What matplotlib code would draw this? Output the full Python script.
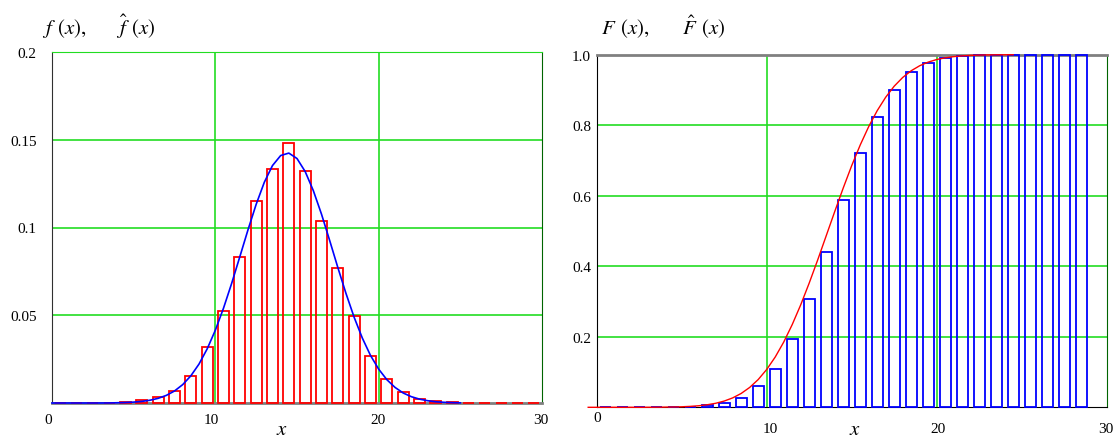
import numpy as np
import matplotlib.pyplot as plt

# two-panel density / distribution plot (histogram vs fitted normal)
plt.rcParams['mathtext.fontset'] = 'stix'
plt.rcParams['font.family'] = ['Liberation Serif', 'DejaVu Serif']

W, H = 1118, 439

# histogram bins k = 0..29, bars drawn at k + 0.5
k_pdf = np.arange(30)
f_hat = [0, 0, 0, 0.0001, 0.0005, 0.0016, 0.0033, 0.0071, 0.0156, 0.0319,
         0.0524, 0.0833, 0.1152, 0.1333, 0.1482, 0.1322, 0.1038, 0.0770, 0.0495, 0.0269,
         0.0137, 0.0062, 0.0025, 0.0010, 0.0004, 0, 0, 0, 0, 0]

# cumulative bars k = 0..28
k_cdf = np.arange(29)
F_hat = [0, 0, 0, 0.0001, 0.0006, 0.0020, 0.0055, 0.012, 0.026, 0.0595,
         0.110, 0.194, 0.306, 0.440, 0.589, 0.720, 0.824, 0.901, 0.950, 0.976,
         0.9906, 0.997, 0.999, 1.0, 1.0, 1.0, 1.0, 1.0, 1.0]

# fitted density, x = 0, 0.5, ..., 25
f_x = np.arange(0, 25.25, 0.5)
f_curve = [0, 0, 0, 0, 0, 0, 0.00001, 0.00003, 0.00014, 0.00028,
           0.00051, 0.00091, 0.00158, 0.00266, 0.00434, 0.00684, 0.01046, 0.01548, 0.02218, 0.03083,
           0.04146, 0.05402, 0.06818, 0.08335, 0.09869, 0.1132, 0.1258, 0.1353, 0.1410, 0.1424,
           0.1393, 0.1319, 0.1210, 0.1076, 0.0926, 0.0772, 0.0624, 0.0488, 0.0370, 0.0271,
           0.0193, 0.0133, 0.0089, 0.0057, 0.0036, 0.0022, 0.0013, 0.0007, 0.0004, 0.0002,
           0.0001]

# fitted distribution, x = -0.5, 0, ..., 24.5
F_x = np.arange(-0.5, 24.75, 0.5)
F_curve = [0, 0, 0, 0, 0, 0, 0, 0.0001, 0.0003, 0.0005,
           0.0009, 0.0015, 0.0026, 0.0044, 0.0072, 0.0114, 0.0177, 0.0267, 0.0393, 0.0564,
           0.0787, 0.1073, 0.1425, 0.1849, 0.2345, 0.2905, 0.3523, 0.4180, 0.4864, 0.5549,
           0.6217, 0.6854, 0.7438, 0.7961, 0.8413, 0.8794, 0.9107, 0.9354, 0.9545, 0.9687,
           0.9790, 0.9863, 0.9912, 0.9946, 0.9967, 0.9981, 0.9989, 0.9994, 0.9997, 0.9998,
           0.9999]

green = '#22dd22'
dkgreen = '#006400'

fig = plt.figure(figsize=(W / 100, H / 100), dpi=100)

# ---- left: density
ax1 = fig.add_axes([52 / W, (H - 404) / H, 490 / W, 351 / H])
ax1.set_xlim(0, 30)
ax1.set_ylim(0, 0.2)
for y in [0.05, 0.1, 0.15]:
    ax1.axhline(y, color=green, lw=1.2, zorder=1)
for x in [10, 20]:
    ax1.axvline(x, color=green, lw=1.2, zorder=1)
ax1.bar(k_pdf + 0.5, f_hat, width=0.66, fill=False, edgecolor='#ff0000',
        linewidth=1.3, zorder=3, clip_on=False)
ax1.plot(f_x, f_curve, color='#0000ff', lw=1.2, zorder=4, clip_on=False)

ax1.spines['top'].set_color(green)
ax1.spines['right'].set_color(dkgreen)
ax1.spines['left'].set_color('#303030')
ax1.spines['bottom'].set_color('#808080')
ax1.spines['bottom'].set_linewidth(2)
ax1.set_xticks([])
ax1.set_yticks([0.05, 0.1, 0.15, 0.2], labels=['0.05', '0.1', '0.15', '0.2'])
ax1.tick_params(length=0, pad=11, labelsize=11)

xt = ax1.get_xaxis_transform()
for pos, lab in [(-0.25, '0'), (9.75, '10'), (19.95, '20'), (29.95, '30')]:
    ax1.text(pos, -0.048, lab, transform=xt, ha='center', va='center', fontsize=11)

# ---- right: distribution
ax2 = fig.add_axes([596.7 / W, (H - 408.3) / H, 510 / W, 352.6 / H])
ax2.set_xlim(0, 30)
ax2.set_ylim(0, 1.0)
for y in [0.2, 0.4, 0.6, 0.8]:
    ax2.axhline(y, color=green, lw=1.2, zorder=1)
for x in [10, 20]:
    ax2.axvline(x, color=green, lw=1.2, zorder=1)
ax2.bar(k_cdf + 0.5, F_hat, width=0.65, fill=False, edgecolor='#0000ff',
        linewidth=1.3, zorder=3, clip_on=False)
ax2.plot(F_x, F_curve, color='#ff0000', lw=1.0, zorder=4, clip_on=False)

ax2.spines['top'].set_color('#808080')
ax2.spines['top'].set_linewidth(2)
ax2.spines['right'].set_color(dkgreen)
ax2.spines['left'].set_color('black')
ax2.spines['bottom'].set_color('black')
ax2.set_xticks([])
ax2.set_yticks([0.2, 0.4, 0.6, 0.8, 1.0], labels=['0.2', '0.4', '0.6', '0.8', '1.0'])
ax2.tick_params(length=0, pad=4, labelsize=11)

xt2 = ax2.get_xaxis_transform()
for pos, lab, yy in [(0, '0', -0.030), (10.2, '10', -0.060), (20.05, '20', -0.060), (29.95, '30', -0.060)]:
    ax2.text(pos, yy, lab, transform=xt2, ha='center', va='center', fontsize=11)

# axis names and titles
fig.text(282 / W, 1 - 431 / H, r'$x$', ha='center', va='center', fontsize=15)
fig.text(855 / W, 1 - 431 / H, r'$x$', ha='center', va='center', fontsize=15)
fig.text(42 / W, 1 - 27 / H, r'$f\;\,(x),\qquad\hat{f}\;\,(x)$', ha='left', va='center', fontsize=15)
fig.text(601 / W, 1 - 27 / H, r'$F\;\,(x),\qquad\hat{F}\;\,(x)$', ha='left', va='center', fontsize=15)

fig.savefig('out.png', dpi=100, facecolor='white')
